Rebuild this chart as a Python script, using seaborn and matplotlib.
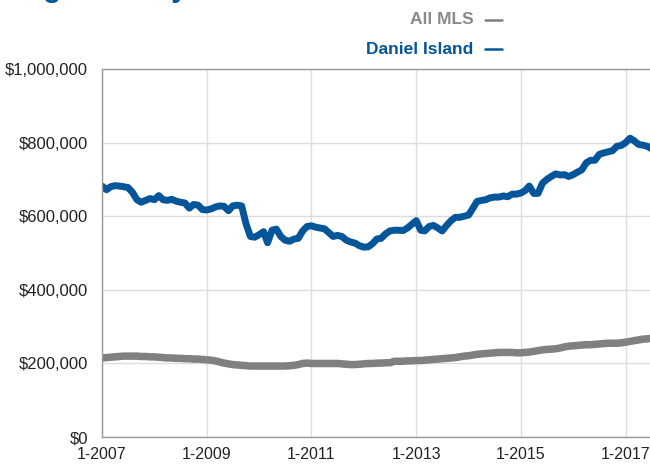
import numpy as np
import pandas as pd
import matplotlib
matplotlib.use("Agg")
import matplotlib.pyplot as plt
import matplotlib.ticker as mticker
import seaborn as sns

# ---------------------------------------------------------
# Data (monthly median price, in $1000s)
# ---------------------------------------------------------
months = pd.date_range("2007-01-01", periods=127, freq="MS")

daniel_island = [
    682, 672, 680, 683, 682, 680, 678, 665, 645, 638, 643, 648,
    645, 656, 645, 643, 646, 641, 638, 636, 622, 632, 630, 618,
    617, 620, 625, 628, 627, 615, 628, 630, 628, 580, 545, 543,
    550, 558, 528, 562, 565, 545, 535, 532, 538, 540, 560, 572,
    574, 570, 568, 566, 556, 545, 548, 545, 535, 530, 527, 520,
    516, 517, 525, 538, 540, 552, 560, 562, 562, 561, 568, 578,
    588, 562, 560, 572, 575, 568, 560, 575, 588, 597, 597, 600,
    603, 622, 640, 643, 645, 650, 652, 652, 655, 653, 660, 660,
    663, 670, 682, 662, 662, 690, 700, 708, 715, 712, 713, 708,
    713, 720, 726, 745, 752, 752, 768, 772, 775, 778, 790, 792,
    800, 812, 805, 795, 793, 790, 783,
]

all_mls = [
    215, 216, 217, 218, 219, 220, 220, 220, 220, 219, 219, 218,
    218, 217, 216, 215, 215, 214, 214, 213, 213, 212, 212, 211,
    210, 209, 207, 204, 201, 199, 197, 196, 195, 194, 193, 193,
    193, 193, 193, 193, 193, 193, 193, 194, 195, 197, 200, 201,
    200, 200, 200, 200, 200, 200, 200, 199, 198, 197, 197, 198,
    199, 200, 200, 201, 201, 202, 202, 206, 206, 206, 207, 207,
    208, 208, 209, 210, 211, 212, 213, 214, 215, 216, 218, 220,
    221, 223, 225, 226, 227, 228, 229, 230, 230, 230, 230, 229,
    229, 230, 231, 233, 235, 237, 238, 239, 240, 242, 245, 247,
    248, 249, 250, 251, 251, 252, 253, 254, 255, 255, 255, 256,
    258, 260, 262, 264, 266, 267, 268,
]

tick_years = [2007, 2009, 2011, 2013, 2015, 2017]
y_ticks = [0, 200000, 400000, 600000, 800000, 1000000]

df = pd.DataFrame({
    "Month": list(months) * 2,
    "Price": [v * 1000 for v in all_mls] + [v * 1000 for v in daniel_island],
    "Area": ["All MLS"] * len(all_mls) + ["Daniel Island"] * len(daniel_island),
})

# ---------------------------------------------------------
# Plot
# ---------------------------------------------------------
sns.set_theme(style="white")
plt.rcParams["font.family"] = ["Liberation Sans", "DejaVu Sans"]

blue = "#04559A"
gray = "#808080"

fig = plt.figure(figsize=(6.5, 4.66), dpi=100)
ax = fig.add_axes([0.157, 0.062, 0.843, 0.79])

sns.lineplot(
    data=df, x="Month", y="Price", hue="Area",
    palette={"All MLS": gray, "Daniel Island": blue},
    size="Area", sizes={"All MLS": 5.4, "Daniel Island": 5.0},
    legend=False, ax=ax,
)

ax.set_xlim(pd.Timestamp("2007-01-01"), pd.Timestamp("2017-06-20"))
ax.set_ylim(0, 1000000)
ax.set_xticks([pd.Timestamp(f"{y}-01-01") for y in tick_years])
ax.set_xticklabels([f"1-{y}" for y in tick_years], fontsize=11.5, color="#222222")
ax.set_yticks(y_ticks)
ax.yaxis.set_major_formatter(mticker.FuncFormatter(lambda v, p: f"${v:,.0f}"))
ax.tick_params(axis="y", labelsize=12, colors="#222222", length=4, width=0.8,
               color="#888888", pad=6)
ax.tick_params(axis="x", length=4, width=0.8, color="#888888", pad=3)
ax.set_xlabel("")
ax.set_ylabel("")

ax.grid(True, color="#dddddd", linewidth=1)
ax.set_axisbelow(True)
for side in ["left", "bottom", "top"]:
    ax.spines[side].set_color("#999999")
    ax.spines[side].set_linewidth(1)
ax.spines["right"].set_visible(False)

# Title cut off at the top of the image, as in the source
fig.text(-0.003, 1.007, "Single-Family Detached", fontsize=21, fontweight="bold",
         color=blue, va="baseline", ha="left")

# Legend written as text in the top right
fig.text(0.728, 0.958, "All MLS", fontsize=12.5, fontweight="bold", color="#8a8a8a",
         ha="right", va="center")
fig.text(0.728, 0.894, "Daniel Island", fontsize=12.5, fontweight="bold", color=blue,
         ha="right", va="center")
fig.lines.append(plt.Line2D([0.746, 0.772], [0.958, 0.958], transform=fig.transFigure,
                            color=gray, linewidth=1.8))
fig.lines.append(plt.Line2D([0.746, 0.772], [0.894, 0.894], transform=fig.transFigure,
                            color=blue, linewidth=1.8))

fig.savefig("out.png", dpi=100)
